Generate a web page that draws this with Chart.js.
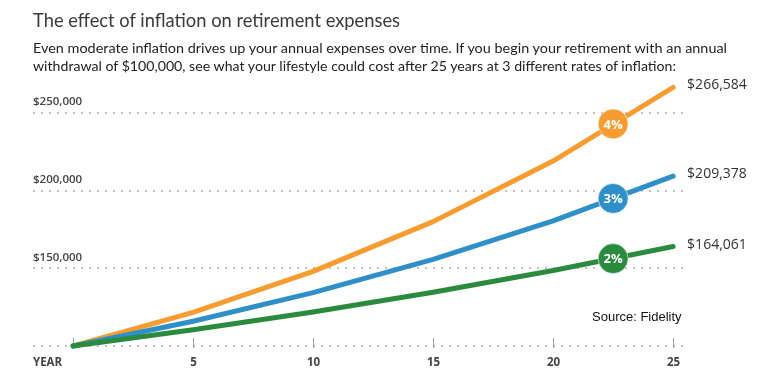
<!DOCTYPE html>
<html><head><meta charset="utf-8">
<script src="https://cdn.jsdelivr.net/npm/chart.js@4"></script>
<style>
html,body{margin:0;padding:0;background:#fff;width:768px;height:391px;overflow:hidden;}
#wrap{position:relative;width:768px;height:391px;}
canvas{position:absolute;left:0;top:0;}
.t{position:absolute;left:33px;white-space:nowrap;transform-origin:0 0;}
</style></head><body>
<div id="wrap">
<canvas id="c" width="768" height="391"></canvas>
<div class="t" data-w="367" style="top:7px;font:400 20px Lato, sans-serif;color:#3a3a3a">The effect of inflation on retirement expenses</div>
<div class="t" data-w="694" style="top:39px;font:400 14px Lato, sans-serif;color:#222">Even moderate inflation drives up your annual expenses over time. If you begin your retirement with an annual</div>
<div class="t" data-w="643" style="top:57px;font:400 14px Lato, sans-serif;color:#222">withdrawal of $100,000, see what your lifestyle could cost after 25 years at 3 different rates of inflation:</div>
</div>
<script>
const years = [0, 5, 10, 15, 20, 25];
const rate4 = [100000, 121665, 148024, 180094, 219112, 266584];
const rate3 = [100000, 115927, 134392, 155797, 180611, 209378];
const rate2 = [100000, 110408, 121899, 134587, 148595, 164061];
const seriesNames = ['4%', '3%', '2%'];
const endLabels = ['$266,584', '$209,378', '$164,061'];
const badgeYear = 22.5;
const badgeValues = [243000, 195000, 156300];
const yTickValues = [100000, 150000, 200000, 250000];
const yTickLabels = ['', '$150,000', '$200,000', '$250,000'];
const xTickValues = [0, 5, 10, 15, 20, 25];
const xTickLabels = ['YEAR', '5', '10', '15', '20', '25'];
const sourceText = 'Source: Fidelity';

const colors = ['#F69C30', '#2F8FC8', '#2A8A3E'];
const seriesData = [rate4, rate3, rate2];

document.querySelectorAll('.t').forEach(el => {
  const w = el.getBoundingClientRect().width;
  el.style.transform = 'scaleX(' + (parseFloat(el.dataset.w) / w) + ')';
});

const datasets = [];
seriesData.forEach((arr, i) => {
  datasets.push({
    type: 'line', label: seriesNames[i],
    data: years.map((y, j) => ({x: y, y: arr[j]})),
    borderColor: colors[i], backgroundColor: colors[i],
    borderWidth: 5, pointRadius: 0, tension: 0,
    borderCapStyle: 'round', borderJoinStyle: 'round',
    order: 3 - i, clip: false
  });
});
seriesData.forEach((arr, i) => {
  datasets.push({
    type: 'scatter', label: seriesNames[i] + ' badge',
    data: [{x: badgeYear, y: badgeValues[i]}],
    pointRadius: 15, pointHoverRadius: 15,
    backgroundColor: colors[i], borderColor: 'rgba(255,255,255,0.6)', borderWidth: 1,
    order: 0, clip: false
  });
});

function dotted(ctx, x1, x2, y) {
  ctx.save();
  ctx.fillStyle = '#c0c0c0';
  for (let x = x1; x <= x2; x += 8) {
    ctx.fillRect(Math.round(x), Math.round(y) - 1, 2, 2);
  }
  ctx.restore();
}

const decor = {
  id: 'decor',
  beforeDatasetsDraw(chart) {
    const {ctx, chartArea, scales: {x, y}} = chart;
    yTickValues.forEach((v, i) => {
      const py = y.getPixelForValue(v);
      dotted(ctx, chartArea.left, chartArea.right, py);
      ctx.save();
      ctx.font = '600 11.5px "Open Sans", sans-serif';
      ctx.fillStyle = '#444';
      ctx.textAlign = 'left'; ctx.textBaseline = 'middle';
      ctx.fillText(yTickLabels[i], chartArea.left, py - 11);
      ctx.restore();
    });
    const base = y.getPixelForValue(yTickValues[0]);
    ctx.save();
    ctx.strokeStyle = '#999'; ctx.lineWidth = 1;
    xTickValues.forEach((v, i) => {
      const px = Math.round(x.getPixelForValue(v)) + 0.5;
      ctx.beginPath(); ctx.moveTo(px, base - 8); ctx.lineTo(px, base + 2); ctx.stroke();
      ctx.font = '700 11.5px "Open Sans", sans-serif';
      ctx.fillStyle = '#444'; ctx.textBaseline = 'middle';
      if (i === 0) { ctx.textAlign = 'left'; ctx.fillText(xTickLabels[i], chartArea.left, base + 17); }
      else { ctx.textAlign = 'center'; ctx.fillText(xTickLabels[i], px, base + 17); }
    });
    ctx.restore();
  },
  afterDatasetsDraw(chart) {
    const {ctx, scales: {x, y}} = chart;
    ctx.save();
    seriesData.forEach((arr, i) => {
      const bx = x.getPixelForValue(badgeYear), by = y.getPixelForValue(badgeValues[i]);
      ctx.font = 'bold 13px "Open Sans", sans-serif';
      ctx.fillStyle = '#fff'; ctx.textAlign = 'center'; ctx.textBaseline = 'middle';
      ctx.fillText(seriesNames[i], bx, by + 1);
      const ex = x.getPixelForValue(years[years.length - 1]) + 14;
      const ey = y.getPixelForValue(arr[arr.length - 1]) - 2;
      ctx.font = '14px "Open Sans", sans-serif';
      ctx.fillStyle = '#333'; ctx.textAlign = 'left';
      ctx.fillText(endLabels[i], ex, ey);
    });
    ctx.font = '13px "Liberation Sans", Arial, sans-serif';
    ctx.fillStyle = '#111'; ctx.textAlign = 'left'; ctx.textBaseline = 'middle';
    ctx.fillText(sourceText, 592, 317);
    ctx.restore();
  }
};

new Chart(document.getElementById('c'), {
  data: {datasets},
  options: {
    responsive: false, animation: false, events: [],
    layout: {padding: {left: 33, right: 80, top: 82, bottom: 45}},
    plugins: {legend: {display: false}, tooltip: {enabled: false}, title: {display: false}},
    scales: {
      x: {type: 'linear', display: false, min: -1.67, max: 25.62},
      y: {type: 'linear', display: false, min: 100000, max: 270000}
    }
  },
  plugins: [decor]
});
</script>
</body></html>
